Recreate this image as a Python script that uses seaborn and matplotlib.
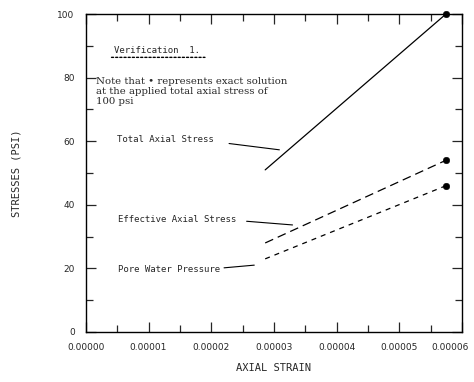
import seaborn as sns
import matplotlib.pyplot as plt
import matplotlib.transforms as mtransforms
import pandas as pd
from matplotlib.ticker import MultipleLocator, FormatStrFormatter

# values
strain = [0.0000286, 0.0000574]
total_stress = [51, 100]
effective_stress = [28, 54]
pore_pressure = [23, 46]

exact_strain = [0.0000574, 0.0000574, 0.0000574]
exact_stress = [100, 54, 46]

x_ticks = [0.0, 0.00001, 0.00002, 0.00003, 0.00004, 0.00005, 0.00006]
y_ticks = [0, 20, 40, 60, 80, 100]

sns.set_style("ticks")
plt.rcParams['font.family'] = ['DejaVu Sans']

fig = plt.figure(figsize=(4.74, 3.82), dpi=100)
ax = fig.add_axes([0.181, 0.131, 0.794, 0.832])

df = pd.DataFrame({"strain": strain, "total": total_stress,
                   "effective": effective_stress, "pore": pore_pressure})

sns.lineplot(data=df, x="strain", y="total", ax=ax, color="black", lw=0.9)
sns.lineplot(data=df, x="strain", y="effective", ax=ax, color="black", lw=0.9,
             linestyle=(0, (7, 4)))
sns.lineplot(data=df, x="strain", y="pore", ax=ax, color="black", lw=0.9,
             linestyle=(0, (4, 4)))
sns.scatterplot(x=exact_strain, y=exact_stress, ax=ax, color="black", s=22,
                edgecolor="black", zorder=5, clip_on=False)

ax.set_xlim(0, 0.00006)
ax.set_ylim(0, 100)
ax.set_xticks(x_ticks)
ax.set_yticks(y_ticks)
ax.xaxis.set_major_formatter(FormatStrFormatter('%.5f'))
ax.xaxis.set_minor_locator(MultipleLocator(0.000005))
ax.yaxis.set_minor_locator(MultipleLocator(10))
ax.tick_params(which='both', direction='in', top=True, right=True,
               labelsize=6.5, width=0.9, pad=8)
ax.tick_params(which='major', length=7)
ax.tick_params(which='minor', length=5)
for sp in ax.spines.values():
    sp.set_linewidth(1.0)
    sp.set_color("black")

# the last strain label runs into the right edge; keep it inside the figure
fig.canvas.draw()
last = ax.get_xticklabels()[-1]
last.set_ha("right")
last.set_transform(last.get_transform() + mtransforms.ScaledTranslation(5 / 72, 0, fig.dpi_scale_trans))

ax.set_xlabel("AXIAL STRAIN", fontsize=7.5, family="DejaVu Sans Mono", labelpad=8)
ax.set_ylabel("STRESSES (PSI)", fontsize=7.5, family="DejaVu Sans Mono", labelpad=26)

mono = dict(fontsize=6.5, family="DejaVu Sans Mono", va="center", ha="left")
ax.text(0.0000045, 88.5, "Verification  1.", **mono)
# dotted underline below the heading
ax.annotate("", xy=(0.0000190, 86.4), xytext=(0.0000041, 86.4),
            arrowprops=dict(arrowstyle="-", ls=(0, (1.5, 1.5)), lw=1.0,
                            color="black", shrinkA=0, shrinkB=0))

serif = dict(fontsize=7.3, family="DejaVu Serif", va="center", ha="left")
ax.text(0.0000017, 78.8, "Note that \u2022 represents exact solution", **serif)
ax.text(0.0000017, 75.6, "at the applied total axial stress of", **serif)
ax.text(0.0000017, 72.5, "100 psi", **serif)

ax.text(0.0000049, 60.4, "Total Axial Stress", **mono)
ax.text(0.0000051, 35.5, "Effective Axial Stress", **mono)
ax.text(0.0000051, 19.8, "Pore Water Pressure", **mono)

leader = dict(arrowstyle="-", lw=0.8, color="black")
ax.annotate("", xy=(0.0000313, 57.2), xytext=(0.0000224, 59.4), arrowprops=leader)
ax.annotate("", xy=(0.0000334, 33.6), xytext=(0.0000252, 34.9), arrowprops=leader)
ax.annotate("", xy=(0.0000273, 21.1), xytext=(0.0000216, 20.1), arrowprops=leader)

fig.savefig("out.png", dpi=100)
